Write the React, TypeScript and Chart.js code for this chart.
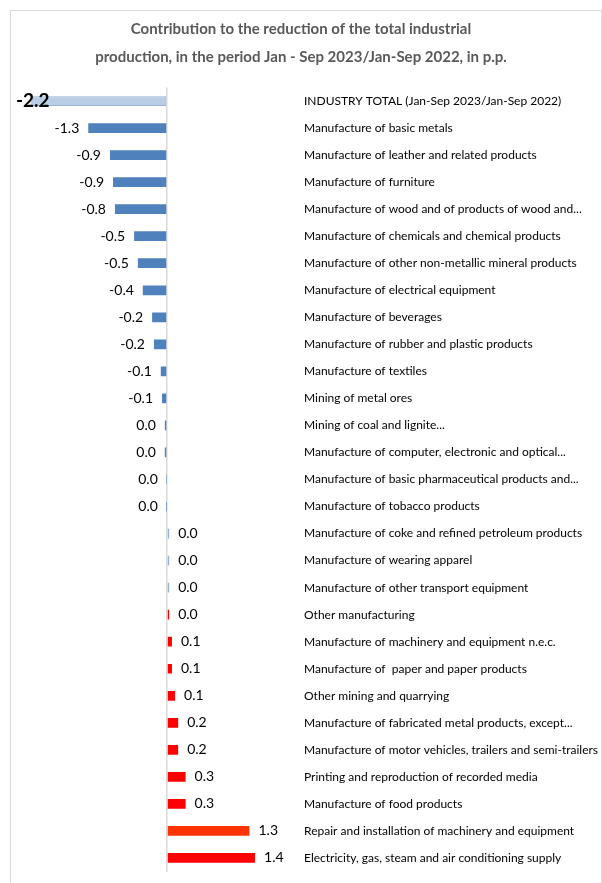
import React, { useEffect, useRef } from 'react';
import { Chart, registerables } from 'chart.js';

Chart.register(...registerables);

const titleLines = [
  'Contribution to the reduction of the total industrial',
  'production, in the period Jan - Sep 2023/Jan-Sep 2022, in p.p.',
];

const categories = [
  'INDUSTRY TOTAL (Jan-Sep 2023/Jan-Sep 2022)',
  'Manufacture of basic metals',
  'Manufacture of leather and related products',
  'Manufacture of furniture',
  'Manufacture of wood and of products of wood and...',
  'Manufacture of chemicals and chemical products',
  'Manufacture of other non-metallic mineral products',
  'Manufacture of electrical equipment',
  'Manufacture of beverages',
  'Manufacture of rubber and plastic products',
  'Manufacture of textiles',
  'Mining of metal ores',
  'Mining of coal and lignite...',
  'Manufacture of computer, electronic and optical...',
  'Manufacture of basic pharmaceutical products and...',
  'Manufacture of tobacco products',
  'Manufacture of coke and refined petroleum products',
  'Manufacture of wearing apparel',
  'Manufacture of other transport equipment',
  'Other manufacturing',
  'Manufacture of machinery and equipment n.e.c.',
  'Manufacture of  paper and paper products',
  'Other mining and quarrying',
  'Manufacture of fabricated metal products, except...',
  'Manufacture of motor vehicles, trailers and semi-trailers',
  'Printing and reproduction of recorded media',
  'Manufacture of food products',
  'Repair and installation of machinery and equipment',
  'Electricity, gas, steam and air conditioning supply',
];

const values = [
  -2.2, -1.27, -0.92, -0.87, -0.84, -0.53, -0.47, -0.39, -0.24, -0.21,
  -0.1, -0.08, -0.035, -0.035, -0.004, -0.002, 0.035, 0.035, 0.035, 0.035,
  0.08, 0.08, 0.13, 0.18, 0.18, 0.3, 0.3, 1.33, 1.42,
];

const barColors = [
  '#B9CDE5', '#4F81BD', '#4F81BD', '#4F81BD', '#4F81BD', '#4F81BD', '#4F81BD', '#4F81BD',
  '#4F81BD', '#4F81BD', '#4F81BD', '#4F81BD', '#4F81BD', '#4F81BD', '#4F81BD', '#4F81BD',
  '#95B3D7', '#95B3D7', '#95B3D7', '#FF0000', '#FF0000', '#FF0000', '#FF0000', '#FF0000',
  '#FF0000', '#FF0000', '#FF0000', '#FF3300', '#FF0000',
];

const FONT = 'Lato, "Liberation Sans", sans-serif';

const fmt = (v: number) => (Math.abs(v) < 0.05 ? '0.0' : v.toFixed(1));

export default function App() {
  const ref = useRef<HTMLCanvasElement | null>(null);

  useEffect(() => {
    if (!ref.current) return;

    const valueLabels = {
      id: 'valueLabels',
      afterDatasetsDraw(chart: any) {
        const ctx = chart.ctx;
        const meta = chart.getDatasetMeta(0);
        const area = chart.chartArea;
        ctx.save();
        ctx.textBaseline = 'middle';
        ctx.fillStyle = '#000000';
        meta.data.forEach((el: any, i: number) => {
          const v = values[i];
          const txt = fmt(v);
          if (i === 0) {
            ctx.font = `bold 19px ${FONT}`;
            ctx.textAlign = 'left';
            ctx.fillText(txt, area.left + 4, el.y);
            return;
          }
          ctx.font = `14px ${FONT}`;
          if (v < 0) {
            ctx.textAlign = 'right';
            ctx.fillText(txt, el.x - 9, el.y);
          } else {
            ctx.textAlign = 'left';
            ctx.fillText(txt, el.x + 9, el.y);
          }
        });
        ctx.restore();
      },
    };

    const chart = new Chart(ref.current, {
      type: 'bar',
      data: {
        labels: categories,
        datasets: [
          {
            data: values,
            backgroundColor: barColors,
            borderColor: '#95B3D7',
            borderWidth: (c: any) => (c.dataIndex === 0 ? 1 : 0),
            borderSkipped: false,
            categoryPercentage: 1,
            barPercentage: 0.36,
          },
        ],
      },
      options: {
        indexAxis: 'y',
        responsive: false,
        animation: false,
        devicePixelRatio: 1,
        layout: { padding: { left: 0, right: 0, top: 0, bottom: 11.5 } },
        plugins: {
          legend: { display: false },
          tooltip: { enabled: false },
          title: {
            display: true,
            text: titleLines,
            color: '#595959',
            font: { family: FONT, size: 15, weight: 'bold', lineHeight: 1.8667 },
            padding: { top: 15, bottom: 16.5 },
          },
        },
        scales: {
          x: {
            min: -2.5,
            max: 2,
            ticks: { display: false, stepSize: 0.5 },
            border: { display: false },
            grid: {
              drawTicks: false,
              lineWidth: 1.5,
              color: (c: any) => (c.tick && c.tick.value === 0 ? '#D9D9D9' : 'rgba(0,0,0,0)'),
            },
            afterFit: (s: any) => {
              s.height = 0;
              s.paddingLeft = 0;
              s.paddingRight = 0;
            },
          },
          yl: {
            type: 'category',
            axis: 'y',
            position: 'left',
            grid: { display: false, drawTicks: false },
            border: { display: false },
            ticks: { display: false },
            afterFit: (s: any) => {
              s.width = 12;
              s.paddingTop = 0;
              s.paddingBottom = 0;
            },
          },
          y: {
            position: 'right',
            grid: { display: false, drawTicks: false },
            border: { display: false },
            ticks: {
              autoSkip: false,
              crossAlign: 'near',
              padding: 13,
              color: '#000000',
              font: { family: FONT, size: 12 },
            },
            afterFit: (s: any) => {
              s.width = 311;
              s.paddingTop = 0;
              s.paddingBottom = 0;
            },
          },
        },
      },
      plugins: [valueLabels],
    } as any);

    return () => chart.destroy();
  }, []);

  return (
    <div style={{ position: 'absolute', left: 0, top: 0, width: 602, height: 883, overflow: 'hidden', background: '#fff' }}>
      <canvas ref={ref} width={602} height={883} style={{ display: 'block', position: 'absolute', left: 0, top: 0 }} />
      <div
        style={{
          position: 'absolute',
          left: 10,
          top: 10,
          width: 590,
          height: 900,
          border: '1px solid #D9D9D9',
          pointerEvents: 'none',
        }}
      />
    </div>
  );
}
